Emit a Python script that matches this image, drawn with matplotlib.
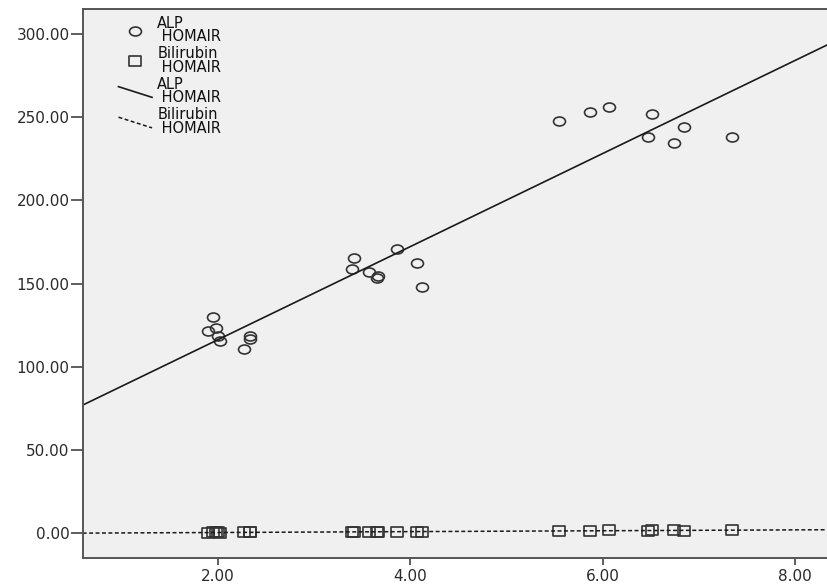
import numpy as np
import matplotlib.pyplot as plt
from matplotlib.path import Path
from matplotlib.transforms import Affine2D
from matplotlib.lines import Line2D
from matplotlib.legend_handler import HandlerBase

plt.rcParams['font.family'] = ['DejaVu Sans']

# HOMA-IR (x) with ALP and bilirubin (y)
homair = [1.90, 1.95, 1.98, 2.00, 2.03, 2.27, 2.34, 2.34,
          3.42, 3.40, 3.57, 3.67, 3.66, 3.86, 4.07, 4.12,
          5.55, 5.87, 6.07, 6.51, 6.47, 6.84, 6.74, 7.34]
alp = [121.4, 129.8, 123.2, 118.4, 115.4, 110.6, 118.4, 116.6,
       165.1, 158.5, 156.7, 154.4, 153.4, 170.5, 162.4, 148.0,
       247.6, 253.2, 256.2, 251.8, 237.8, 243.8, 234.6, 238.2]
bilirubin = [0.3, 0.4, 0.4, 0.5, 0.3, 0.5, 0.4, 0.6,
             0.6, 0.5, 0.7, 0.8, 0.6, 0.7, 0.9, 0.6,
             1.5, 1.4, 1.6, 1.7, 1.3, 1.5, 1.6, 1.8]

yticks = [0, 50, 100, 150, 200, 250, 300]
xticks = [2, 4, 6, 8]
xlim = (0.60, 8.34)
ylim = (-15, 315)

ink = '#333333'

# SPSS markers come out slightly wider than tall
ellipse = Path.unit_circle().transformed(Affine2D().scale(1.0, 0.75))
box = Path.unit_rectangle().transformed(Affine2D().translate(-0.5, -0.5).scale(1.0, 0.82))


class SlopedLine(HandlerBase):
    # legend handle drawn as a short falling line, as SPSS does
    def create_artists(self, legend, orig_handle, xdescent, ydescent,
                       width, height, fontsize, trans):
        ln = Line2D([0], [0])
        ln.update_from(orig_handle)
        ln.set_data([-xdescent, width - xdescent],
                    [height - ydescent, -ydescent])
        ln.set_transform(trans)
        return [ln]


fig = plt.figure(figsize=(8.28, 5.84), dpi=100)
ax = fig.add_axes([0.0999, 0.0445, 0.9001, 0.9401])
ax.set_facecolor('#f0f0f0')

x = np.array(homair)
p1, = ax.plot(x, alp, linestyle='none', marker=ellipse, markersize=8.6,
              markerfacecolor='none', markeredgecolor=ink, markeredgewidth=1.2)
p2, = ax.plot(x, bilirubin, linestyle='none', marker=box, markersize=8.4,
              markerfacecolor='none', markeredgecolor=ink, markeredgewidth=1.2)

xs = np.array(xlim)
a1, b1 = np.polyfit(x, alp, 1)
a2, b2 = np.polyfit(x, bilirubin, 1)
l1, = ax.plot(xs, a1 * xs + b1, color='#1a1a1a', lw=1.2)
l2, = ax.plot(xs, a2 * xs + b2, color='#1a1a1a', lw=1.1,
              linestyle=(0, (2.6, 1.6)))

ax.set_xlim(*xlim)
ax.set_ylim(*ylim)
ax.set_xticks(xticks)
ax.set_xticklabels(['%.2f' % v for v in xticks])
ax.set_yticks(yticks)
ax.set_yticklabels(['%.2f' % v for v in yticks])

ax.tick_params(axis='y', length=8.5, width=1.1, pad=1, color=ink,
               labelcolor='#2a2a2a', labelsize=11)
ax.tick_params(axis='x', length=5, width=1.1, pad=3, color=ink,
               labelcolor='#2a2a2a', labelsize=11)

for side in ['left', 'bottom', 'top']:
    ax.spines[side].set_color('#555555')
    ax.spines[side].set_linewidth(1.4)
ax.spines['right'].set_visible(False)

labels = ['ALP\n HOMAIR', 'Bilirubin\n HOMAIR', 'ALP\n HOMAIR', 'Bilirubin\n HOMAIR']
leg = ax.legend([p1, p2, l1, l2], labels, loc='upper left',
                bbox_to_anchor=(0.048, 0.988), frameon=False,
                borderaxespad=0, borderpad=0, numpoints=1,
                handlelength=2.3, handleheight=0.75, handletextpad=0.35,
                labelspacing=0.12, fontsize=10.5,
                handler_map={l1: SlopedLine(), l2: SlopedLine()})
for t in leg.get_texts():
    t.set_linespacing(0.9)
    t.set_color('#111111')

fig.savefig('out.png', dpi=100, facecolor='white')
